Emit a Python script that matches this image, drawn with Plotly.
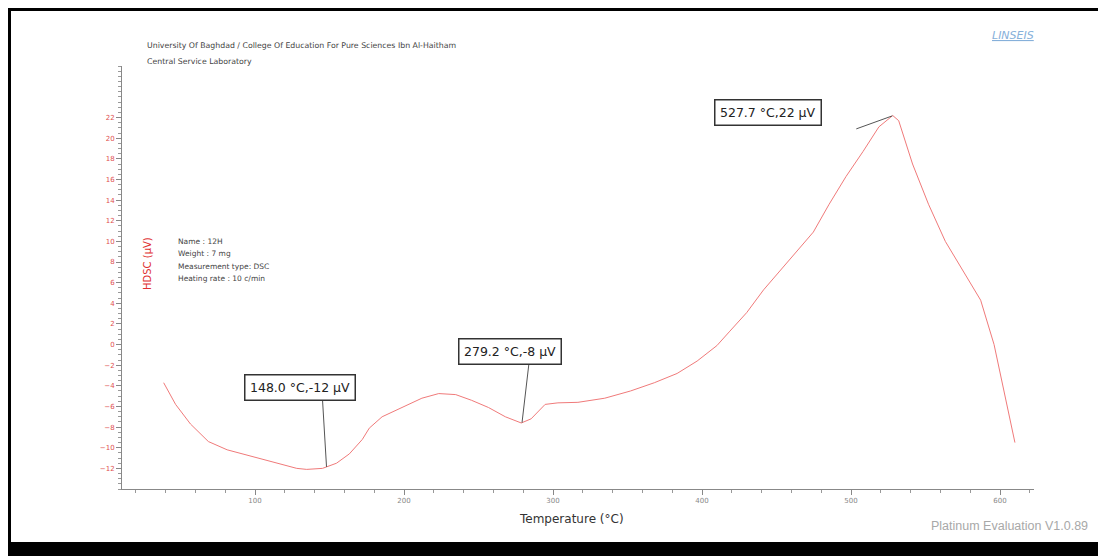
import numpy as np
import plotly.graph_objects as go

# ---- data ----
temps = [38.7, 46.7, 56.7, 68.7, 81.3, 96.7, 114.7, 128.0, 134.7, 145.3, 154.7, 163.3,
         172.0, 176.7, 185.3, 198.7, 212.0, 223.3, 234.7, 245.3, 256.7, 268.0, 278.7,
         285.3, 294.7, 303.3, 316.7, 334.7, 352.0, 368.0, 383.3, 396.7, 410.0, 418.7,
         430.0, 441.3, 452.0, 463.3, 474.7, 485.3, 496.7, 508.0, 518.7, 528.0, 532.0,
         541.3, 552.0, 563.3, 576.0, 587.0, 596.0, 603.0, 610.0]
hdsc = [-3.7, -5.8, -7.7, -9.4, -10.2, -10.8, -11.5, -12.0, -12.1, -12.0, -11.5, -10.6,
        -9.2, -8.1, -7.0, -6.1, -5.2, -4.75, -4.85, -5.4, -6.1, -7.0, -7.6,
        -7.2, -5.8, -5.65, -5.6, -5.2, -4.5, -3.7, -2.8, -1.6, -0.1, 1.3,
        3.1, 5.3, 7.1, 8.9, 10.9, 13.6, 16.3, 18.7, 21.1, 22.2, 21.7,
        17.5, 13.6, 10.0, 7.0, 4.3, 0.0, -4.8, -9.5]

peak_T = [148.0, 279.2, 527.7]
peak_V = [-12, -8, 22]
peak_labels = [f"{t:.1f} °C,{v} µV" for t, v in zip(peak_T, peak_V)]

x_ticks = [100, 200, 300, 400, 500, 600]
y_ticks = list(range(-12, 23, 2))

info_lines = ["Name : 12H", "Weight : 7 mg", "Measurement type: DSC", "Heating rate : 10 c/min"]
header_lines = ["University Of Baghdad / College Of Education For Pure Sciences Ibn Al-Haitham",
                "Central Service Laboratory"]

W, H = 1106, 556
L, R, T, B = 114, 80, 58, 75
PW, PH = W - L - R, H - T - B


def px(x):
    return (x - L) / PW


def py(y):
    return (H - B - y) / PH


FONT = "DejaVu Sans, Verdana, sans-serif"

fig = go.Figure()
fig.add_trace(go.Scatter(x=temps, y=hdsc, mode="lines",
                         line=dict(color="#f07a7a", width=1), hoverinfo="skip",
                         showlegend=False))

shapes = [dict(type="rect", xref="paper", yref="paper", x0=px(3), x1=px(1093),
               y0=py(534), y1=py(3), fillcolor="white", line=dict(width=0), layer="below")]

# annotation boxes and leader lines (offsets in pixels)
anchor_V = np.interp(peak_T, temps, hdsc)
line_off = [(-4, 67), (7, 60), (-36, -13)]
box_off = [(-27, 79), (-12, 71), (-124, 3)]
annotations = []
for t, v, lab, lo, bo in zip(peak_T, anchor_V, peak_labels, line_off, box_off):
    shapes.append(dict(type="line", xref="x", yref="y", xsizemode="pixel", ysizemode="pixel",
                       xanchor=t, yanchor=float(v), x0=0, y0=0, x1=lo[0], y1=lo[1],
                       line=dict(color="#555555", width=1)))
    annotations.append(dict(x=t, y=float(v), xref="x", yref="y", text=lab, showarrow=False,
                            xshift=bo[0], yshift=bo[1], bgcolor="white", bordercolor="#333333",
                            borderwidth=1.5, borderpad=4.5,
                            font=dict(family=FONT, size=12.5, color="#222222")))

for i, s in enumerate(header_lines):
    annotations.append(dict(x=px(137), y=py(38 + 15 * i), xref="paper", yref="paper", text=s,
                            showarrow=False, xanchor="left", yanchor="middle",
                            font=dict(family=FONT, size=7.8, color="#444444")))
for i, s in enumerate(info_lines):
    annotations.append(dict(x=px(168), y=py(233 + 12.5 * i), xref="paper", yref="paper", text=s,
                            showarrow=False, xanchor="left", yanchor="middle",
                            font=dict(family=FONT, size=7.5, color="#444444")))

annotations.append(dict(x=px(139), y=py(256), xref="paper", yref="paper", text="HDSC (µV)",
                        textangle=-90, showarrow=False, xanchor="center", yanchor="middle",
                        font=dict(family=FONT, size=10, color="#e03030")))
annotations.append(dict(x=px(1082), y=py(518), xref="paper", yref="paper",
                        text="Platinum Evaluation V1.0.89", showarrow=False,
                        xanchor="right", yanchor="middle",
                        font=dict(family="Liberation Sans, Arial, sans-serif", size=12.5, color="#a8a8a8")))
annotations.append(dict(x=px(1005), y=py(28), xref="paper", yref="paper",
                        text="<i><u>LINSEIS</u></i>", showarrow=False,
                        xanchor="center", yanchor="middle",
                        font=dict(family=FONT, size=11, color="#86b0da")))
annotations.append(dict(x=px(563), y=py(511), xref="paper", yref="paper",
                        text="Temperature (°C)", showarrow=False,
                        xanchor="center", yanchor="middle",
                        font=dict(family=FONT, size=12, color="#333333")))

fig.update_layout(
    width=W, height=H, margin=dict(l=L, r=R, t=T, b=B, pad=0),
    paper_bgcolor="black", plot_bgcolor="rgba(0,0,0,0)",
    shapes=shapes, annotations=annotations, showlegend=False,
    xaxis=dict(range=[10.74, 622.8], tickvals=x_ticks, ticks="outside", ticklen=5,
               tickcolor="#888888", showline=True, linecolor="#888888", linewidth=1,
               showgrid=False, zeroline=False,
               minor=dict(dtick=20, tick0=0, ticks="outside", ticklen=3, tickcolor="#999999"),
               tickfont=dict(family=FONT, size=7, color="#888888")),
    yaxis=dict(range=[-14, 27], tickvals=y_ticks, ticks="outside", ticklen=5,
               tickcolor="#888888", showline=True, linecolor="#888888", linewidth=1,
               showgrid=False, zeroline=False,
               minor=dict(dtick=0.5, tick0=0, ticks="outside", ticklen=3, tickcolor="#999999"),
               tickfont=dict(family=FONT, size=7, color="#e05050")),
)

fig.write_html("out.html")
